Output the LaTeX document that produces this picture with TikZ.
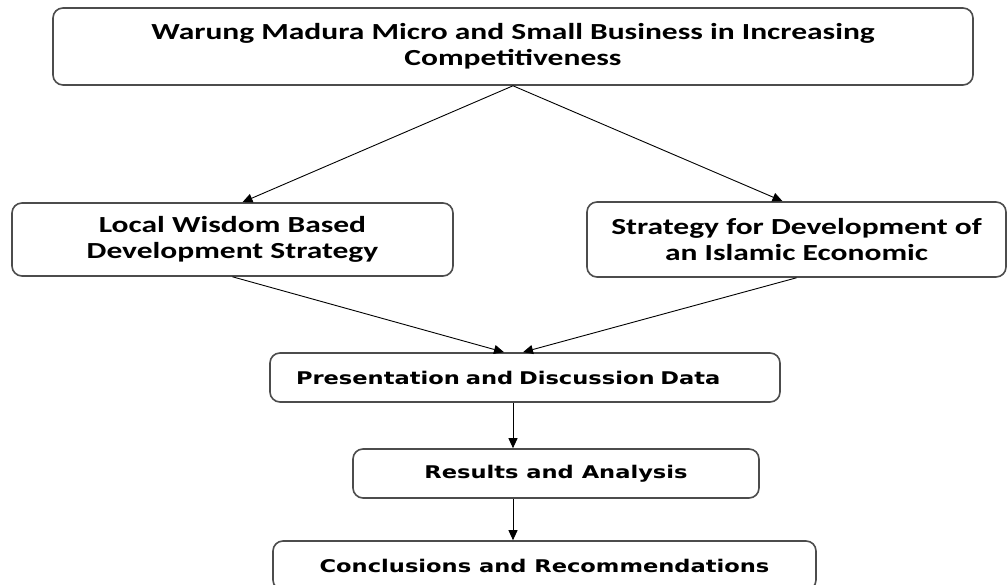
\documentclass[tikz,border=0pt]{standalone}
\usepackage{fontspec}
\usepackage{tikz}
\usetikzlibrary{arrows.meta}
\newfontfamily\topfont[FakeStretch=1.37]{Carlito Bold}
\newfontfamily\lowfont[FakeStretch=1.29]{DejaVu Sans Bold}

\begin{document}
\begin{tikzpicture}[x=1pt,y=1pt,
    box/.style={draw=black!70,line width=1.6pt,rounded corners=10pt,fill=white,inner sep=0pt},
    upbox/.style={box,align=center,font=\topfont\fontsize{23}{26}\selectfont},
    lowbox/.style={box,minimum height=49pt,font=\lowfont\fontsize{17.5}{20}\selectfont},
    arr/.style={line width=0.9pt,-{Triangle[length=10pt,width=9pt]}}]
\useasboundingbox (0,0) rectangle (1007,585);

% Main topic
\node[upbox,minimum width=920pt,minimum height=77pt] (topic) at (513,538.5)
    {Warung Madura Micro and Small Business in Increasing\\Competitiveness};

% Two strategies
\node[upbox,minimum width=441pt,minimum height=73pt] (wisdom) at (232.5,345.5)
    {Local Wisdom Based\\Development Strategy};
\node[upbox,minimum width=419pt,minimum height=75pt] (islamic) at (796.5,345.5)
    {Strategy for Development of\\an Islamic Economic};

% Lower steps
\node[lowbox,text width=458pt,inner xsep=26pt,align=left] (present) at (525,207.5)
    {Presentation and Discussion Data};
\node[lowbox,minimum width=406pt] (results) at (556,111.5) {Results and Analysis};
\node[lowbox,minimum width=543pt] (concl) at (544.5,19.5) {Conclusions and Recommendations};

% Arrows
\draw[arr] (topic.south) -- ([xshift=10pt]wisdom.north);
\draw[arr] (topic.south) -- ([xshift=-14pt]islamic.north);
\draw[arr] (wisdom.south) -- ([xshift=-21pt]present.north);
\draw[arr] (islamic.south) -- ([xshift=-2pt]present.north);
\draw[arr] (present.south -| topic.south) -- (results.north -| topic.south);
\draw[arr] (results.south -| topic.south) -- (concl.north -| topic.south);
\end{tikzpicture}
\end{document}
